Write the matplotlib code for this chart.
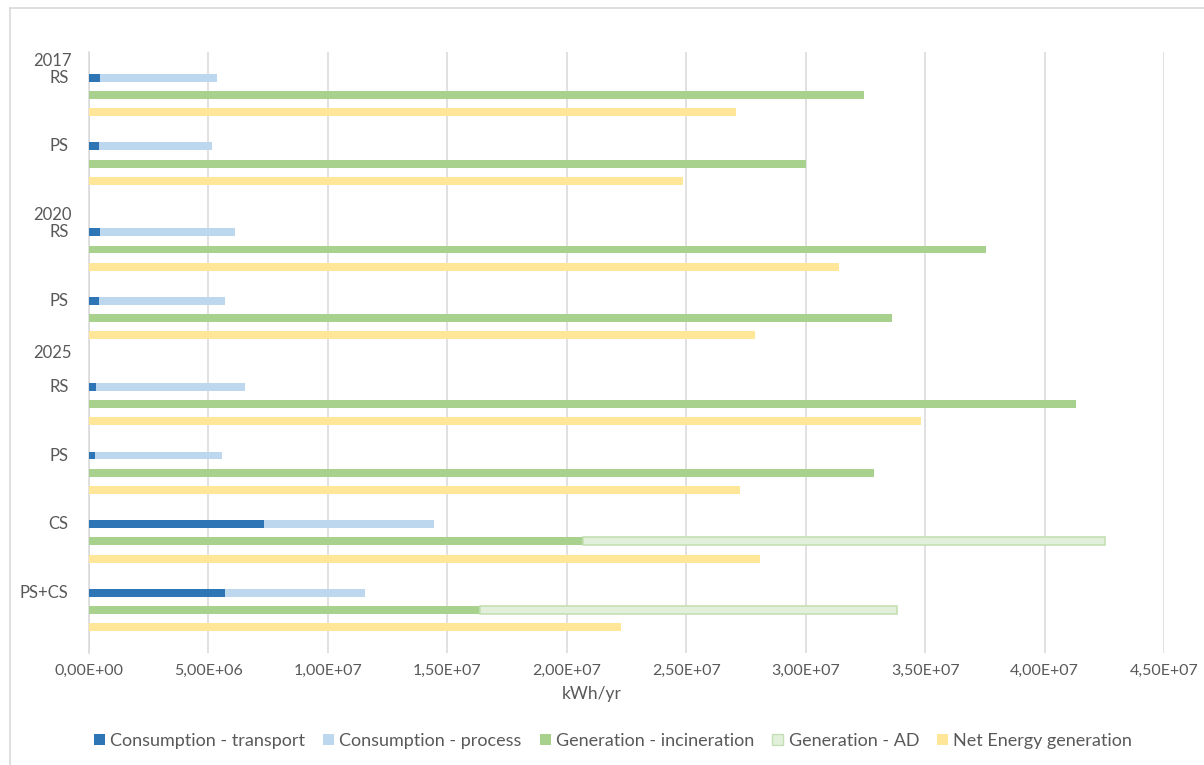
import matplotlib
matplotlib.use("Agg")
import matplotlib.pyplot as plt
from matplotlib.patches import Patch
from matplotlib.lines import Line2D
from matplotlib.ticker import FuncFormatter, MultipleLocator

plt.rcParams['font.family'] = ['Lato', 'DejaVu Sans']

# ---- data ----
scenarios = ["RS", "PS", "RS", "PS", "RS", "PS", "CS", "PS+CS"]
years = ["2017", "2020", "2025"]
cons_transport = [4.6e5, 4.2e5, 4.6e5, 4.2e5, 2.8e5, 2.4e5, 7.34e6, 5.71e6]
cons_process = [4.88e6, 4.74e6, 5.64e6, 5.29e6, 6.24e6, 5.31e6, 7.09e6, 5.84e6]
gen_incineration = [3.244e7, 3.000e7, 3.755e7, 3.363e7, 4.133e7, 3.285e7, 2.068e7, 1.636e7]
gen_ad = [0, 0, 0, 0, 0, 0, 2.183e7, 1.745e7]
net_generation = [2.707e7, 2.487e7, 3.141e7, 2.788e7, 3.482e7, 2.724e7, 2.809e7, 2.228e7]
series_names = ["Consumption - transport", "Consumption - process",
                "Generation - incineration", "Generation - AD", "Net Energy generation"]

# ---- layout ----
group_slots = [1, 5, 10, 14, 19, 23, 27, 31]
year_slots = [0, 9, 17]
n_slots = 35
c_transport = "#2E75B6"
c_process = "#BDD7EE"
c_incin = "#A9D18E"
c_ad = "#E2EFDA"
c_ad_edge = "#C5E0B4"
c_net = "#FFE699"
txt = "#595959"
grid = "#D9D9D9"

W, H = 1204, 765
fig = plt.figure(figsize=(W / 100, H / 100), dpi=100)
ax = fig.add_axes([89 / W, 1 - 653 / H, (1164 - 89) / W, (653 - 52) / H])

bh = 0.46
yc = [s for s in group_slots]
yg = [s + 1 for s in group_slots]
yn = [s + 2 for s in group_slots]

ax.barh(yc, cons_transport, height=bh, color=c_transport, zorder=3)
ax.barh(yc, cons_process, left=cons_transport, height=bh, color=c_process, zorder=3)
ax.barh(yg, gen_incineration, height=bh, color=c_incin, zorder=3)
ad_idx = [i for i, v in enumerate(gen_ad) if v > 0]
ax.barh([yg[i] for i in ad_idx], [gen_ad[i] for i in ad_idx],
        left=[gen_incineration[i] for i in ad_idx], height=bh, color=c_ad,
        edgecolor=c_ad_edge, linewidth=1.2, zorder=3)
ax.barh(yn, net_generation, height=bh, color=c_net, zorder=3)

ax.set_xlim(0, 4.5e7)
ax.set_ylim(n_slots - 0.5, -0.5)
ax.xaxis.set_major_locator(MultipleLocator(5e6))
ax.xaxis.set_major_formatter(FuncFormatter(lambda v, p: ("%.2E" % v).replace(".", ",")))
ax.grid(axis="x", color=grid, linewidth=1.1, zorder=0)
ax.set_axisbelow(True)
for sp in ["top", "right", "bottom"]:
    ax.spines[sp].set_visible(False)
ax.spines["left"].set_color(grid)
ax.spines["left"].set_linewidth(1.1)
ax.tick_params(axis="x", length=0, pad=8, labelsize=11.5, labelcolor=txt)
ax.set_yticks([])
fig.text(592 / W, 1 - 694 / H, "kWh/yr", ha="center", va="center", fontsize=12.5, color=txt)

# category labels
for s, lab in zip(group_slots, scenarios):
    ax.text(-0.019, s, lab, transform=ax.get_yaxis_transform(), ha="right",
            va="center", fontsize=12, color=txt)
for s, lab in zip(year_slots, years):
    ax.text(-0.016, s, lab, transform=ax.get_yaxis_transform(), ha="right",
            va="center", fontsize=12, color=txt)

# chart border
fig.add_artist(Line2D([10 / W, 10 / W], [0, 1 - 8 / H], color=grid, lw=1.2))
fig.add_artist(Line2D([10 / W, 1], [1 - 8 / H, 1 - 8 / H], color=grid, lw=1.2))

handles = [Patch(facecolor=c_transport), Patch(facecolor=c_process),
           Patch(facecolor=c_incin), Patch(facecolor=c_ad, edgecolor=c_ad_edge),
           Patch(facecolor=c_net)]
leg = fig.legend(handles, series_names, loc="center", bbox_to_anchor=(613 / W, 1 - 741 / H),
                 ncol=5, frameon=False, fontsize=13, handlelength=0.6, handleheight=0.6,
                 handletextpad=0.3, columnspacing=1.0, labelcolor=txt)

fig.savefig("out.png", dpi=100)
